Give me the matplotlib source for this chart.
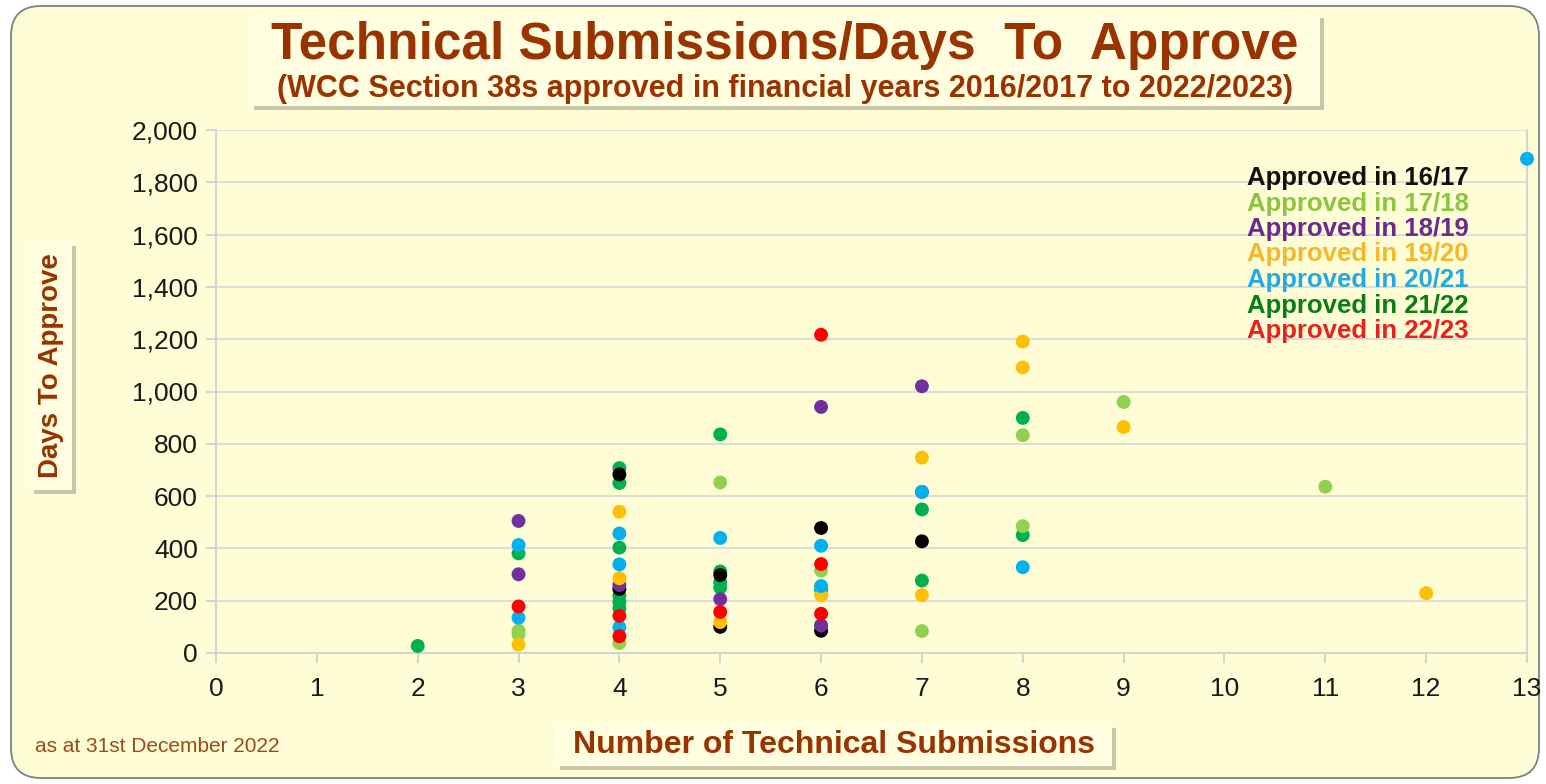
import matplotlib
matplotlib.use('Agg')
import matplotlib.pyplot as plt
import matplotlib.patheffects as pe
from matplotlib.patches import FancyBboxPatch
from matplotlib.transforms import IdentityTransform
from matplotlib.ticker import FuncFormatter

plt.rcParams['font.family'] = ['Liberation Sans', 'DejaVu Sans']

# approval year -> (number of technical submissions, days to approve)
years = ['16/17', '17/18', '18/19', '19/20', '20/21', '21/22', '22/23']

x_1617 = [4, 4, 5, 5, 6, 6, 7]
y_1617 = [683, 245, 298, 100, 478, 85, 427]

x_1718 = [3, 3, 4, 5, 6, 7, 8, 8, 9, 11]
y_1718 = [85, 70, 38, 652, 315, 84, 833, 485, 960, 636]

x_1819 = [3, 3, 4, 5, 6, 6, 7, 7]
y_1819 = [505, 301, 260, 206, 941, 105, 1020, 616]

x_1920 = [3, 4, 4, 5, 6, 7, 7, 8, 8, 9, 12]
y_1920 = [32, 540, 286, 118, 221, 747, 221, 1191, 1092, 864, 229]

x_2021 = [3, 3, 4, 4, 4, 5, 6, 6, 7, 8, 13]
y_2021 = [413, 135, 457, 339, 98, 440, 410, 256, 616, 328, 1890]

x_2122 = [2, 3, 4, 4, 4, 4, 4, 4, 5, 5, 5, 5, 6, 6, 7, 7, 8, 8]
y_2122 = [27, 381, 707, 650, 403, 220, 195, 170, 836, 312, 270, 250, 240, 105, 549, 277, 899, 451]

x_2223 = [3, 4, 4, 5, 6, 6, 6]
y_2223 = [178, 142, 64, 157, 1217, 340, 150]

xs = [x_1617, x_1718, x_1819, x_1920, x_2021, x_2122, x_2223]
ys = [y_1617, y_1718, y_1819, y_1920, y_2021, y_2122, y_2223]

dot_colors = ['#000000', '#92D050', '#7030A0', '#FFC000', '#00B0F0', '#00B050', '#FF0000']
label_colors = ['#111111', '#8CC63F', '#6A2A8E', '#F5B82A', '#26A9E0', '#0A7D16', '#E8211C']

bg = '#FFFDD6'
brown = '#993300'

W, H = 1546, 784
fig = plt.figure(figsize=(W / 100, H / 100), dpi=100)
fig.patch.set_facecolor('white')

frame = FancyBboxPatch((11, 6), W - 18, H - 12, boxstyle='round,pad=0,rounding_size=30',
                       transform=IdentityTransform(), fc=bg, ec='#808080', lw=1.3, zorder=0)
fig.add_artist(frame)

shadow = [pe.withSimplePatchShadow(offset=(3, -3), shadow_rgbFace='#77776a', alpha=0.4), pe.Normal()]


def box(x0, y0, x1, y1):
    # pixel box measured from the top-left of the picture
    p = FancyBboxPatch((x0, H - y1), x1 - x0, y1 - y0, boxstyle='square,pad=0',
                       transform=IdentityTransform(), fc='#FFFEE0', ec='none', zorder=1)
    p.set_path_effects(shadow)
    fig.add_artist(p)


ax = fig.add_axes([216 / W, 1 - 653 / H, (1527 - 216) / W, (653 - 130) / H])
ax.set_facecolor('none')
ax.set_zorder(2)

order = [5, 0, 1, 2, 3, 4, 6]
for i in order:
    ax.scatter(xs[i], ys[i], s=100, color=dot_colors[i], edgecolors='none',
               clip_on=False, zorder=3)

ax.set_xlim(0, 13)
ax.set_ylim(0, 2000)
ax.set_xticks(range(0, 14))
ax.set_yticks(range(0, 2001, 200))
ax.yaxis.set_major_formatter(FuncFormatter(lambda v, p: f'{int(v):,}'))
ax.yaxis.grid(True, color='#D9D9D9', lw=1.3)
ax.set_axisbelow(True)
for s in ['left', 'right', 'bottom']:
    ax.spines[s].set_color('#D0D0D0')
    ax.spines[s].set_linewidth(1.3)
ax.spines['top'].set_visible(False)
ax.tick_params(axis='both', length=7, width=1.3, color='#D0D0D0', labelsize=19,
               labelcolor='#1a1a1a')
ax.tick_params(axis='x', pad=10)
ax.tick_params(axis='y', pad=6)

# title block
box(250, 14, 1320, 106)
fig.text(785 / W, 1 - 45 / H, 'Technical Submissions/Days  To  Approve', ha='center', va='center',
         fontsize=37, fontweight='bold', color=brown, zorder=4)
fig.text(785 / W, 1 - 89 / H,
         '(WCC Section 38s approved in financial years 2016/2017 to 2022/2023)',
         ha='center', va='center', fontsize=22, fontweight='bold', color=brown, zorder=4)

# axis titles
box(30, 242, 72, 490)
fig.text(51 / W, 1 - 366 / H, 'Days To Approve', rotation=90, ha='center', va='center',
         fontsize=20, fontweight='bold', color=brown, zorder=4)
box(556, 724, 1112, 766)
fig.text(834 / W, 1 - 745 / H, 'Number of Technical Submissions', ha='center', va='center',
         fontsize=23, fontweight='bold', color=brown, zorder=4)

# year labels
for k, yr in enumerate(years):
    fig.text(1247 / W, 1 - (178 + 25.5 * k) / H, 'Approved in ' + yr, ha='left', va='center',
             fontsize=18.5, fontweight='bold', color=label_colors[k], zorder=4)

fig.text(35 / W, 1 - 746 / H, 'as at 31st December 2022', ha='left', va='center',
         fontsize=15, color='#9C4A1A')

fig.savefig('out.png', dpi=100, facecolor='white')
